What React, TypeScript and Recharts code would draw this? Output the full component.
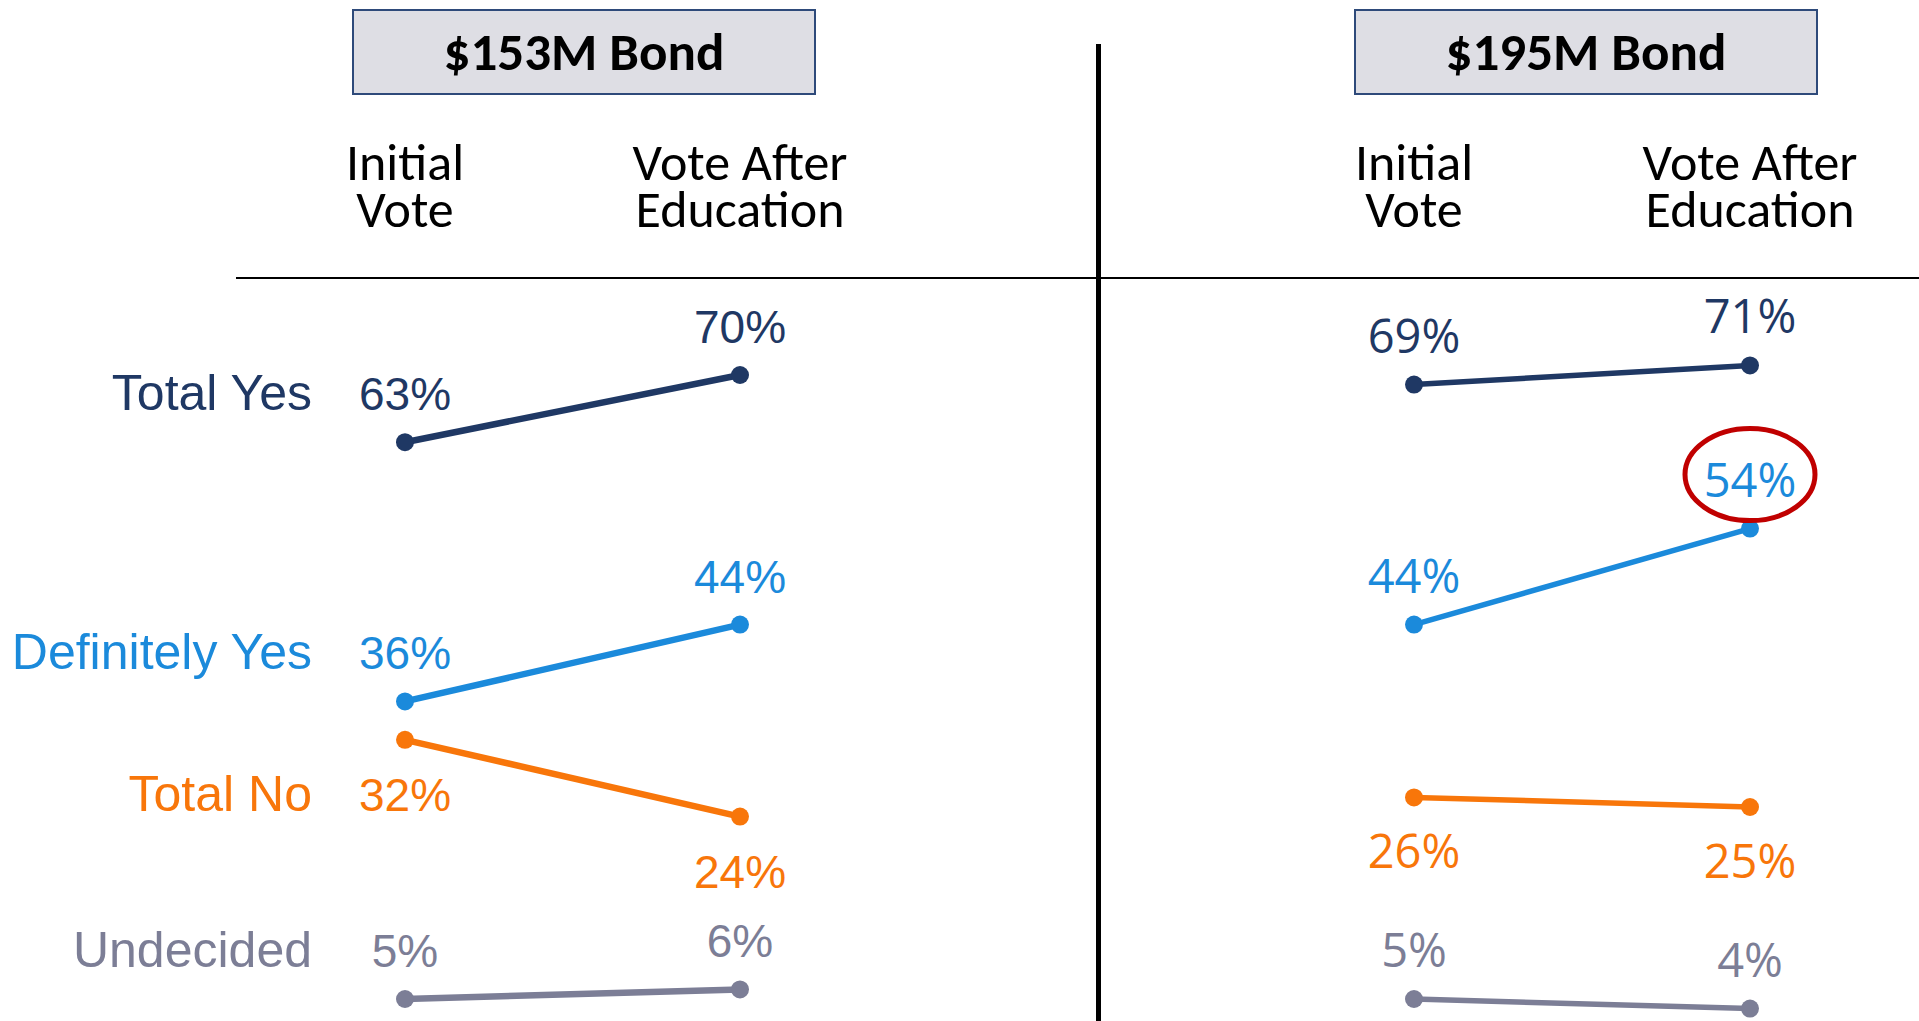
import React from "react";
import { LineChart, Line, XAxis, YAxis, LabelList, ReferenceDot } from "recharts";

// stages and row names
const stages = ["Initial Vote", "Vote After Education"];
const rowNames = ["Total Yes", "Definitely Yes", "Total No", "Undecided"];

// $153M bond
const totalYes153 = [63, 70];
const defYes153 = [36, 44];
const totalNo153 = [32, 24];
const undecided153 = [5, 6];

// $195M bond
const totalYes195 = [69, 71];
const defYes195 = [44, 54];
const totalNo195 = [26, 25];
const undecided195 = [5, 4];

const NAVY = "#1f3864";
const BLUE = "#1b8adb";
const ORANGE = "#f8760a";
const GRAY = "#7c7e96";

const seriesKeys = ["totalYes", "defYes", "totalNo", "undecided"];
const seriesColors = [NAVY, BLUE, ORANGE, GRAY];

const data153 = stages.map((stage, i) => ({
  stage,
  totalYes: totalYes153[i],
  defYes: defYes153[i],
  totalNo: totalNo153[i],
  undecided: undecided153[i],
}));

const data195 = stages.map((stage, i) => ({
  stage,
  totalYes: totalYes195[i],
  defYes: defYes195[i],
  totalNo: totalNo195[i],
  undecided: undecided195[i],
}));

const HEAD_FONT = "Carlito, Lato, sans-serif";
const ARIAL = "'Liberation Sans', Arial, sans-serif";

function StageTick(props: any) {
  const { x, y, payload } = props;
  const label: string = payload.value;
  const cut = label.lastIndexOf(" ");
  const lines = [label.slice(0, cut), label.slice(cut + 1)];
  return (
    <g>
      {lines.map((l, i) => (
        <text
          key={l}
          x={x}
          y={y - 99 + i * 47}
          textAnchor="middle"
          fill="#000"
          fontSize={52}
          fontFamily={HEAD_FONT}
        >
          {l}
        </text>
      ))}
    </g>
  );
}

function makeLabel(color: string, font: string, size: number, below: boolean, rowName?: string) {
  return (p: any) => {
    const x = p.x ?? p.viewBox?.x;
    const y = p.y ?? p.viewBox?.y;
    const dy = below ? 71 : -32;
    return (
      <g key={`lbl-${p.index}`}>
        <text x={x} y={y + dy} textAnchor="middle" fill={color} fontSize={size} fontFamily={font}>
          {p.value}%
        </text>
        {rowName && p.index === 0 && (
          <text x={x - 93} y={y + dy} textAnchor="end" fill={color} fontSize={50} fontFamily={ARIAL}>
            {rowName}
          </text>
        )}
      </g>
    );
  };
}

function Panel({ data, left, width, margin, font, fontSize, strokeWidth, withRowNames, children }: any) {
  return (
    <div style={{ position: "absolute", left, top: 0 }}>
      <LineChart width={width} height={1047} data={data} margin={margin}>
        <XAxis
          dataKey="stage"
          orientation="top"
          height={279}
          axisLine={false}
          tickLine={false}
          tickSize={0}
          tickMargin={0}
          interval={0}
          tick={<StageTick />}
        />
        <YAxis type="number" domain={[0, 80]} hide />
        {seriesKeys.map((k, i) => (
          <Line
            key={k}
            dataKey={k}
            stroke={seriesColors[i]}
            strokeWidth={strokeWidth}
            dot={{ r: 9, fill: seriesColors[i], stroke: seriesColors[i], strokeWidth: 0 }}
            isAnimationActive={false}
          >
            <LabelList
              dataKey={k}
              content={makeLabel(
                seriesColors[i],
                font,
                fontSize,
                k === "totalNo",
                withRowNames ? rowNames[i] : undefined
              )}
            />
          </Line>
        ))}
        {children}
      </LineChart>
    </div>
  );
}

function TitleBox({ left, text }: { left: number; text: string }) {
  return (
    <div
      style={{
        position: "absolute",
        left,
        top: 9,
        width: 464,
        height: 86,
        boxSizing: "border-box",
        background: "#dedee4",
        border: "2px solid #2e4a7a",
        display: "flex",
        alignItems: "center",
        justifyContent: "center",
        fontFamily: HEAD_FONT,
        fontWeight: 700,
        fontSize: 53,
        color: "#000",
      }}
    >
      {text}
    </div>
  );
}

export default function App() {
  return (
    <div
      style={{
        position: "relative",
        width: 1919,
        height: 1021,
        overflow: "hidden",
        background: "#fff",
      }}
    >
      <style>{`body{margin:0}`}</style>
      <TitleBox left={352} text="$153M Bond" />
      <TitleBox left={1354} text="$195M Bond" />
      <div style={{ position: "absolute", left: 236, top: 277, width: 1683, height: 2, background: "#000" }} />
      <div style={{ position: "absolute", left: 1096, top: 44, width: 5, height: 977, background: "#000" }} />
      <Panel
        data={data153}
        left={0}
        width={1099}
        margin={{ top: 0, right: 359, left: 405, bottom: 0 }}
        font={ARIAL}
        fontSize={46}
        strokeWidth={6.5}
        withRowNames
      />
      <Panel
        data={data195}
        left={1099}
        width={820}
        margin={{ top: 0, right: 169, left: 315, bottom: 0 }}
        font="'Open Sans', sans-serif"
        fontSize={47}
        strokeWidth={5.5}
      >
        <ReferenceDot
          x={stages[1]}
          y={defYes195[1]}
          r={0}
          shape={(p: any) => (
            <ellipse cx={p.cx} cy={p.cy - 54} rx={65} ry={46} fill="none" stroke="#c00000" strokeWidth={5} />
          )}
        />
      </Panel>
    </div>
  );
}
